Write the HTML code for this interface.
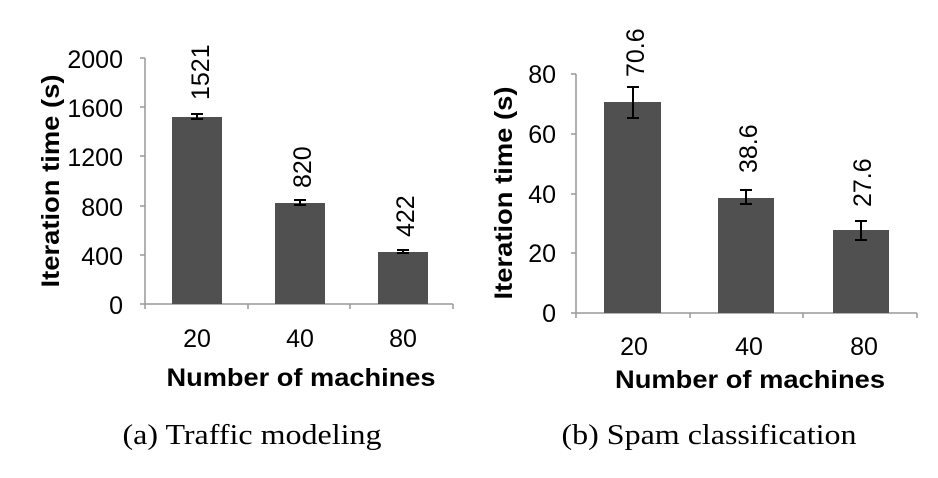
<!DOCTYPE html>
<html><head><style>body{margin:0;background:#fff}svg{display:block}</style></head><body>
<svg width="938" height="478" viewBox="0 0 938 478" xmlns="http://www.w3.org/2000/svg" font-family="Liberation Sans, sans-serif">
<g stroke="#999" stroke-width="1.5" fill="none">
<path d="M145,58V304H453"/>
<path d="M140,58H145M140,107H145M140,156H145M140,206H145M140,255H145M140,304H145"/>
<path d="M145,304V309M248,304V309M350,304V309M453,304V309"/>
<path d="M576,74V313H917"/>
<path d="M571,74H576M571,134H576M571,194H576M571,253H576M571,313H576"/>
<path d="M576,313V318M690,313V318M803,313V318M917,313V318"/>
</g>
<g fill="#505050">
<rect x="172" y="117" width="50" height="187"/>
<rect x="275" y="203" width="50" height="101"/>
<rect x="378" y="252" width="50" height="52"/>
<rect x="604" y="102" width="57" height="211"/>
<rect x="718" y="198" width="56" height="115"/>
<rect x="833" y="230" width="56" height="83"/>
</g>
<g stroke="#000" stroke-width="2" fill="none">
<path d="M197,114V119M191,114H203M191,119H203"/>
<path d="M300,200V205M294,200H306M294,205H306"/>
<path d="M403,250V253M397,250H409M397,253H409"/>
<path d="M633,87V118M627,87H639M627,118H639"/>
<path d="M746,190V204M740,190H752M740,204H752"/>
<path d="M861,221V240M855,221H867M855,240H867"/>
</g>
<g font-size="25" text-anchor="end">
<text x="123" y="68">2000</text><text x="123" y="117">1600</text><text x="123" y="166">1200</text>
<text x="123" y="216">800</text><text x="123" y="265">400</text><text x="123" y="314">0</text>
<text x="556" y="83">80</text><text x="556" y="143">60</text><text x="556" y="203">40</text>
<text x="556" y="262">20</text><text x="556" y="322">0</text>
</g>
<g font-size="25" text-anchor="middle">
<text x="197" y="347">20</text><text x="300" y="347">40</text><text x="403" y="347">80</text>
<text x="634" y="355">20</text><text x="749" y="355">40</text><text x="864" y="355">80</text>
</g>
<g font-size="25">
<text transform="translate(209,100) rotate(-90)">1521</text>
<text transform="translate(311,188) rotate(-90)">820</text>
<text transform="translate(414,237) rotate(-90)">422</text>
<text transform="translate(644,77) rotate(-90)">70.6</text>
<text transform="translate(757,173) rotate(-90)">38.6</text>
<text transform="translate(871,207) rotate(-90)">27.6</text>
</g>
<g font-size="25" font-weight="bold" text-anchor="middle">
<text transform="translate(59,181) rotate(-90)" textLength="213" lengthAdjust="spacingAndGlyphs">Iteration time (s)</text>
<text transform="translate(512,193) rotate(-90)" textLength="213" lengthAdjust="spacingAndGlyphs">Iteration time (s)</text>
<text x="301" y="386" textLength="269" lengthAdjust="spacingAndGlyphs">Number of machines</text>
<text x="750" y="388" textLength="270" lengthAdjust="spacingAndGlyphs">Number of machines</text>
</g>
<g font-family="Liberation Serif, serif" font-size="28" text-anchor="middle">
<text x="252" y="444" textLength="259" lengthAdjust="spacingAndGlyphs">(a)  Traffic modeling</text>
<text x="709" y="444" textLength="295" lengthAdjust="spacingAndGlyphs">(b)  Spam classification</text>
</g>
</svg>
</body></html>
